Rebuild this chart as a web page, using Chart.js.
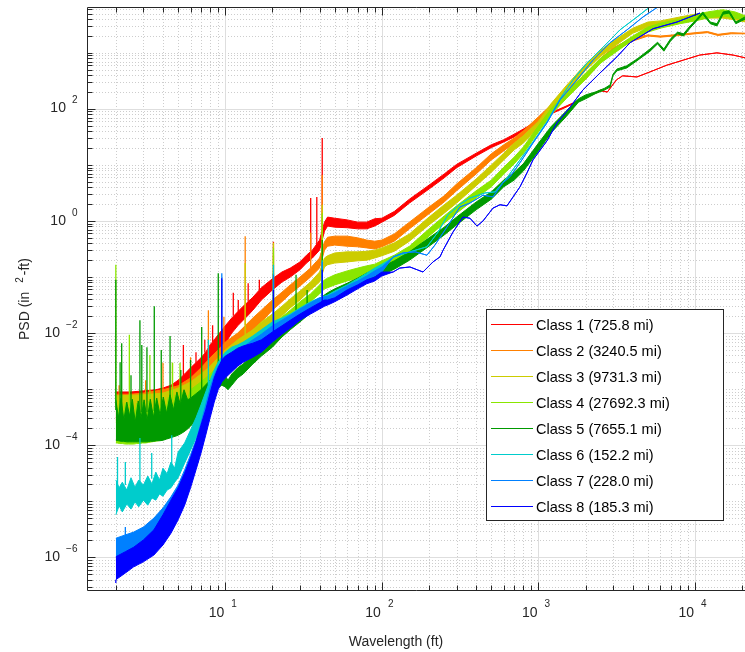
<!DOCTYPE html>
<html>
<head>
<meta charset="utf-8">
<script src="https://cdn.jsdelivr.net/npm/chart.js@4/dist/chart.umd.min.js"></script>
<style>
  html, body { margin: 0; padding: 0; background: #fff; }
  canvas { display: block; }
</style>
</head>
<body>
<canvas id="psd" width="745" height="652"></canvas>
<script>
// Each band row: [wavelength (ft), log10 PSD upper envelope, log10 PSD lower envelope]
// Each spike row: [wavelength (ft), log10 PSD at base, log10 PSD at peak]
const class1Band = [
  [2, -3.05, -3.51], [2.5, -3.05, -3.55], [3, -3.03, -3.55], [3.6, -3.01, -3.53], [4, -2.98, -3.51],
  [4.5, -2.93, -3.44], [5, -2.84, -3.34], [5.5, -2.73, -3.16], [6, -2.62, -2.98], [7, -2.44, -2.80],
  [7.5, -2.34, -2.69], [8, -2.21, -2.57], [8.5, -2.12, -2.44], [9, -2.03, -2.34], [10, -1.87, -2.18],
  [11, -1.73, -2.00], [12, -1.62, -1.87], [13, -1.52, -1.77], [14, -1.44, -1.68], [15, -1.36, -1.59],
  [17, -1.19, -1.41], [20, -1.03, -1.23], [23, -0.91, -1.09], [26, -0.84, -1.00], [30, -0.73, -0.87],
  [33, -0.61, -0.75], [36, -0.52, -0.66], [40, -0.34, -0.52], [43, -0.02, -0.18], [45, 0.07, -0.09],
  [50, 0.05, -0.11], [60, 0.02, -0.12], [70, -0.02, -0.14], [80, -0.02, -0.14], [90, 0.04, -0.09],
  [100, 0.05, -0.02], [120, 0.17, 0.10], [150, 0.39, 0.32], [200, 0.64, 0.57], [250, 0.84, 0.77],
  [300, 1.01, 0.95], [400, 1.21, 1.16], [500, 1.36, 1.31], [600, 1.45, 1.41], [700, 1.55, 1.50],
  [800, 1.64, 1.61], [1000, 1.80, 1.77], [1200, 1.93, 1.91], [1500, 2.05, 2.03], [2000, 2.21, 2.20],
  [2500, 2.34, 2.32], [2750, 2.30, 2.30], [3150, 2.52, 2.52], [3450, 2.59, 2.59], [4250, 2.57, 2.57],
  [5150, 2.66, 2.66], [6600, 2.78, 2.78], [8400, 2.87, 2.87], [10700, 2.96, 2.96], [13800, 3.00, 3.00],
  [17500, 2.96, 2.96], [21000, 2.91, 2.91]
];
const class1Spikes = [
  [5.4, -2.76, -2.21], [6.5, -2.53, -2.34], [7.4, -2.35, -2.12], [8.3, -2.16, -1.86],
  [11.25, -1.69, -1.28], [12.1, -1.62, -1.41], [14, -1.44, -1.11], [16.5, -1.23, -1.05],
  [20.3, -1.03, -0.37], [35.1, -0.55, 0.41], [38.4, -0.43, 0.43], [41.6, -0.27, 1.48]
];

const class2Band = [
  [2, -3.09, -3.55], [2.5, -3.09, -3.57], [3, -3.07, -3.57], [4, -3.01, -3.55], [5, -2.94, -3.44],
  [6, -2.80, -3.23], [7, -2.62, -3.01], [8, -2.44, -2.84], [9, -2.30, -2.62], [10, -2.16, -2.44],
  [12, -2.00, -2.21], [15, -1.73, -1.94], [17, -1.59, -1.80], [20, -1.41, -1.59], [23, -1.27, -1.44],
  [26, -1.14, -1.30], [30, -1.00, -1.16], [35, -0.84, -1.00], [40, -0.66, -0.84], [43, -0.37, -0.52],
  [45, -0.29, -0.45], [50, -0.27, -0.43], [60, -0.27, -0.45], [70, -0.30, -0.46], [80, -0.34, -0.48],
  [90, -0.36, -0.50], [100, -0.34, -0.46], [120, -0.23, -0.36], [150, -0.02, -0.14], [200, 0.25, 0.13],
  [250, 0.45, 0.34], [300, 0.66, 0.54], [400, 0.95, 0.84], [500, 1.20, 1.09], [600, 1.36, 1.25],
  [700, 1.48, 1.39], [800, 1.61, 1.52], [1000, 1.86, 1.77], [1200, 2.07, 1.98], [1500, 2.32, 2.23],
  [2000, 2.62, 2.53], [2500, 2.91, 2.84], [3000, 3.09, 3.02], [4000, 3.27, 3.21], [5000, 3.32, 3.30],
  [6000, 3.30, 3.28], [8000, 3.33, 3.31], [10000, 3.36, 3.34], [12000, 3.38, 3.36], [14000, 3.33, 3.31],
  [17000, 3.36, 3.34], [21000, 3.35, 3.34]
];
const class2Spikes = [
  [2.1, -3.16, -2.93], [3.1, -3.10, -2.84], [4.0, -3.05, -2.53], [6.0, -2.84, -2.43],
  [7.8, -2.48, -1.59], [9.8, -2.19, -1.71], [13.4, -1.86, -0.27], [20.3, -1.41, -0.61],
  [35.1, -0.84, -0.21], [41.6, -0.61, 0.82]
];

const class3Band = [
  [2, -3.12, -3.59], [3, -3.10, -3.60], [4, -3.07, -3.59], [5, -2.98, -3.48], [6, -2.87, -3.30],
  [7, -2.73, -3.12], [8, -2.59, -2.98], [9, -2.44, -2.80], [10, -2.30, -2.62], [12, -2.12, -2.39],
  [15, -1.94, -2.18], [17, -1.80, -2.03], [20, -1.66, -1.86], [23, -1.52, -1.69], [26, -1.39, -1.55],
  [30, -1.25, -1.41], [35, -1.09, -1.23], [40, -0.91, -1.09], [43, -0.66, -0.82], [45, -0.62, -0.78],
  [50, -0.57, -0.75], [60, -0.55, -0.73], [70, -0.55, -0.71], [80, -0.54, -0.70], [90, -0.52, -0.66],
  [100, -0.48, -0.62], [120, -0.39, -0.54], [150, -0.23, -0.36], [200, 0.07, -0.07], [250, 0.29, 0.14],
  [300, 0.46, 0.32], [400, 0.75, 0.63], [500, 1.00, 0.87], [600, 1.21, 1.09], [700, 1.39, 1.27],
  [800, 1.52, 1.39], [1000, 1.78, 1.66], [1200, 2.09, 1.96], [1500, 2.41, 2.28], [2000, 2.80, 2.69],
  [2500, 3.05, 2.94], [3000, 3.21, 3.10], [4000, 3.44, 3.35], [5000, 3.55, 3.46], [6000, 3.57, 3.48],
  [8000, 3.64, 3.55], [10000, 3.69, 3.59], [12000, 3.71, 3.62], [15000, 3.71, 3.62], [18000, 3.68, 3.59],
  [21000, 3.62, 3.55]
];
const class3Spikes = [
  [4.6, -3.01, -2.53], [13.4, -2.05, -0.75], [20.3, -1.66, -0.39], [41.6, -0.84, 0.29]
];

const class4Band = [
  [2, -3.23, -3.96], [2.04, -3.55, -3.96], [2.12, -3.21, -3.97], [2.2, -3.60, -3.97], [2.3, -3.25, -3.98],
  [2.4, -3.55, -3.98], [2.5, -3.23, -3.98], [2.6, -3.62, -3.98], [2.72, -3.25, -3.97], [2.84, -3.57, -3.97],
  [2.96, -3.23, -3.96], [3.1, -3.60, -3.96], [3.24, -3.21, -3.95], [3.4, -3.55, -3.94], [3.56, -3.19, -3.93],
  [3.74, -3.51, -3.92], [3.92, -3.18, -3.91], [4.12, -3.48, -3.89], [4.33, -3.14, -3.87], [4.55, -3.44, -3.85],
  [4.79, -3.10, -3.82], [5.04, -3.37, -3.79], [5.31, -3.05, -3.74], [5.6, -3.28, -3.68], [6, -3.01, -3.62],
  [7, -2.87, -3.37], [8, -2.73, -3.10], [9, -2.60, -2.93], [10, -2.48, -2.78],
  [12, -2.30, -2.57], [15, -2.12, -2.34], [17, -2.00, -2.21], [20, -1.86, -2.03], [23, -1.71, -1.87],
  [26, -1.59, -1.75], [30, -1.44, -1.61], [35, -1.30, -1.44], [40, -1.14, -1.30], [43, -1.05, -1.21],
  [45, -1.02, -1.19], [50, -0.96, -1.14], [60, -0.89, -1.07], [70, -0.84, -1.02], [80, -0.80, -0.96],
  [90, -0.77, -0.91], [100, -0.71, -0.86], [120, -0.61, -0.75], [150, -0.45, -0.57], [200, -0.14, -0.27],
  [250, 0.09, -0.04], [300, 0.27, 0.14], [400, 0.54, 0.41], [500, 0.73, 0.61], [600, 0.96, 0.84],
  [700, 1.14, 1.02], [800, 1.32, 1.20], [1000, 1.70, 1.59], [1200, 2.00, 1.89], [1500, 2.28, 2.18],
  [2000, 2.64, 2.53], [2500, 2.91, 2.82], [3000, 3.07, 2.98], [4000, 3.30, 3.23], [5000, 3.46, 3.37],
  [6000, 3.53, 3.44], [8000, 3.60, 3.52], [10000, 3.68, 3.57], [12000, 3.73, 3.62], [15000, 3.77, 3.66],
  [18000, 3.73, 3.62], [21000, 3.66, 3.59]
];
const class4Spikes = [
  [2.0, -3.28, -0.78], [2.44, -3.30, -2.03], [3.3, -3.29, -2.39], [4.6, -3.20, -2.53],
  [5.14, -3.14, -2.53], [20.3, -1.86, -0.48], [41.6, -1.11, 0.14]
];

const class5Band = [
  [2, -3.19, -3.91], [2.08, -3.51, -3.92], [2.16, -3.16, -3.93], [2.25, -3.55, -3.93], [2.35, -3.23, -3.94],
  [2.45, -3.48, -3.94], [2.55, -3.18, -3.94], [2.66, -3.59, -3.94], [2.78, -3.21, -3.94], [2.9, -3.51, -3.94],
  [3.03, -3.19, -3.94], [3.17, -3.55, -3.94], [3.32, -3.18, -3.93], [3.48, -3.50, -3.93], [3.65, -3.16, -3.92],
  [3.83, -3.46, -3.92], [4.02, -3.14, -3.91], [4.22, -3.43, -3.89], [4.44, -3.10, -3.87], [4.67, -3.37, -3.85],
  [4.91, -3.05, -3.83], [5.17, -3.28, -3.80], [5.45, -3.01, -3.76], [5.75, -3.19, -3.71], [6, -3.16, -3.66],
  [7, -3.01, -3.46], [8, -2.84, -3.16], [9, -2.71, -2.98], [9.5, -2.69, -2.93],
  [10, -2.76, -2.96], [10.4, -2.84, -3.01], [11, -2.73, -2.93], [12, -2.62, -2.80], [13, -2.55, -2.73],
  [15, -2.39, -2.55], [17, -2.27, -2.41], [20, -2.09, -2.25], [23, -1.93, -2.07], [26, -1.80, -1.94],
  [30, -1.66, -1.80], [35, -1.52, -1.64], [40, -1.39, -1.52], [43, -1.32, -1.44], [45, -1.28, -1.41],
  [50, -1.21, -1.36], [60, -1.11, -1.25], [70, -1.02, -1.16], [80, -0.93, -1.07], [90, -0.87, -1.02],
  [100, -0.82, -0.96], [120, -0.71, -0.86], [150, -0.55, -0.70], [200, -0.30, -0.45], [250, -0.11, -0.25],
  [300, 0.07, -0.07], [400, 0.34, 0.20], [500, 0.52, 0.39], [600, 0.73, 0.61], [700, 0.87, 0.73],
  [800, 1.02, 0.89], [1000, 1.39, 1.25], [1200, 1.68, 1.57], [1500, 1.96, 1.86], [1800, 2.18, 2.12],
  [2000, 2.25, 2.18], [2300, 2.30, 2.27], [2650, 2.37, 2.34], [2870, 2.43, 2.39], [2990, 2.62, 2.59],
  [3170, 2.71, 2.68], [3660, 2.77, 2.73], [4260, 2.89, 2.86], [5160, 3.07, 3.03], [5760, 3.19, 3.16],
  [6320, 3.07, 3.03], [6970, 3.25, 3.21], [7730, 3.37, 3.34], [8440, 3.34, 3.30], [9280, 3.48, 3.44],
  [10230, 3.60, 3.57], [11200, 3.73, 3.69], [12500, 3.55, 3.52], [13800, 3.52, 3.48], [15100, 3.73, 3.69],
  [16500, 3.75, 3.71], [18200, 3.55, 3.52], [20800, 3.64, 3.60]
];
const class5Spikes = [
  [2.0, -3.37, -1.05], [2.13, -3.39, -2.52], [2.18, -3.39, -2.18], [2.5, -3.41, -2.75],
  [2.85, -3.41, -1.77], [2.93, -3.41, -2.21], [3.16, -3.41, -2.25], [3.52, -3.39, -1.52],
  [3.9, -3.37, -2.30], [4.44, -3.34, -2.05], [5.2, -3.26, -2.66], [6.0, -3.16, -2.48],
  [7.07, -3.01, -1.89], [9.02, -2.71, -0.93], [20.3, -2.09, -0.93], [28.3, -1.69, -0.96],
  [33.3, -1.55, -1.23], [41.6, -1.36, -0.34]
];

const class6Band = [
  [2, -4.62, -5.24], [2.1, -4.76, -5.08], [2.2, -4.66, -5.19], [2.35, -4.80, -5.05], [2.5, -4.58, -5.14],
  [2.65, -4.75, -5.01], [2.8, -4.62, -5.10], [3, -4.71, -4.98], [3.2, -4.55, -5.07], [3.4, -4.69, -4.94],
  [3.6, -4.48, -4.98], [3.8, -4.62, -4.87], [4, -4.41, -4.91], [4.25, -4.51, -4.80], [4.5, -4.30, -4.76],
  [4.75, -4.41, -4.66], [5, -4.12, -4.58], [5.5, -3.96, -4.32], [6, -3.73, -4.09], [6.5, -3.51, -3.87],
  [7, -3.28, -3.59], [7.5, -3.05, -3.37], [8, -2.84, -3.10], [8.5, -2.66, -2.93], [9, -2.52, -2.76],
  [10, -2.34, -2.55], [11, -2.25, -2.46], [12, -2.21, -2.41], [13, -2.16, -2.34], [15, -2.05, -2.21],
  [17, -1.94, -2.11], [20, -1.80, -1.98], [23, -1.73, -1.87], [26, -1.66, -1.80], [30, -1.55, -1.69],
  [35, -1.44, -1.57], [40, -1.37, -1.50], [45, -1.32, -1.43], [50, -1.25, -1.37], [60, -1.14, -1.27],
  [70, -1.03, -1.14], [80, -0.93, -1.03], [90, -0.84, -0.95], [100, -0.77, -0.86], [120, -0.64, -0.64],
  [151, -0.55, -0.55], [194, -0.46, -0.46], [228, -0.20, -0.20], [264, 0.11, 0.11], [315, 0.30, 0.30],
  [365, 0.41, 0.41], [455, 0.50, 0.50], [528, 0.52, 0.52], [629, 0.77, 0.77], [762, 1.09, 1.09],
  [922, 1.41, 1.41], [1133, 1.77, 1.77], [1372, 2.18, 2.18], [1661, 2.52, 2.52], [2040, 2.82, 2.82],
  [2582, 3.10, 3.10], [3314, 3.41, 3.41], [4256, 3.64, 3.64], [5152, 3.82, 3.82], [5970, 3.98, 3.98]
];
const class6Spikes = [
  [2.05, -4.73, -4.21], [2.3, -4.71, -4.30], [2.85, -4.67, -3.87], [3.39, -4.60, -4.14],
  [4.55, -4.33, -3.82], [7.8, -2.93, -2.12], [20.3, -1.80, -0.78], [41.6, -1.34, -0.70]
];

const class7Band = [
  [2, -5.66, -6.05], [2.3, -5.60, -6.01], [2.6, -5.55, -5.96], [3, -5.46, -5.87], [3.5, -5.30, -5.74],
  [4, -5.12, -5.57], [4.5, -4.92, -5.39], [5, -4.71, -5.16], [5.5, -4.44, -4.89], [6, -4.17, -4.62],
  [6.5, -3.91, -4.32], [7, -3.60, -4.00], [7.5, -3.28, -3.69], [8, -2.98, -3.37], [8.5, -2.75, -3.10],
  [9, -2.59, -2.91], [10, -2.44, -2.73], [11, -2.37, -2.62], [12, -2.30, -2.52], [13, -2.25, -2.44],
  [15, -2.12, -2.30], [17, -2.02, -2.19], [20, -1.87, -2.05], [23, -1.77, -1.93], [26, -1.68, -1.82],
  [30, -1.57, -1.69], [35, -1.46, -1.59], [40, -1.37, -1.50], [45, -1.34, -1.44], [50, -1.28, -1.39],
  [60, -1.16, -1.27], [70, -1.07, -1.16], [80, -0.98, -1.07], [90, -0.89, -0.98], [100, -0.82, -0.91],
  [118, -0.64, -0.64], [136, -0.57, -0.57], [163, -0.55, -0.55], [194, -0.61, -0.61], [218, -0.43, -0.43],
  [260, -0.11, -0.11], [315, 0.25, 0.25], [365, 0.32, 0.32], [442, 0.46, 0.46], [512, 0.43, 0.43],
  [593, 0.68, 0.68], [658, 0.79, 0.79], [762, 1.04, 1.04], [922, 1.39, 1.39], [1133, 1.75, 1.75],
  [1372, 2.16, 2.16], [1762, 2.52, 2.52], [2228, 2.87, 2.87], [2861, 3.18, 3.18], [3674, 3.41, 3.41],
  [4650, 3.64, 3.64], [5797, 3.82, 3.82], [6713, 3.98, 3.98]
];
const class7Spikes = [
  [2.3, -5.62, -5.46], [9.5, -2.52, -0.93], [20.3, -1.87, -0.96], [41.6, -1.36, -0.73]
];

const class8Band = [
  [2, -5.99, -6.40], [2.3, -5.90, -6.28], [2.6, -5.82, -6.17], [3, -5.69, -6.08], [3.5, -5.51, -5.96],
  [4, -5.24, -5.78], [4.5, -4.98, -5.57], [5, -4.76, -5.33], [5.5, -4.50, -5.07], [6, -4.23, -4.76],
  [6.5, -3.94, -4.44], [7, -3.64, -4.14], [7.5, -3.37, -3.82], [8, -3.07, -3.51], [8.5, -2.80, -3.23],
  [9, -2.62, -3.01], [9.5, -2.48, -2.87], [10, -2.41, -2.80], [11, -2.34, -2.69], [12, -2.27, -2.59],
  [13, -2.23, -2.52], [15, -2.18, -2.43], [17, -2.12, -2.34], [20, -1.98, -2.16], [23, -1.87, -2.02],
  [26, -1.77, -1.91], [30, -1.66, -1.77], [35, -1.55, -1.66], [40, -1.46, -1.57], [43, -1.41, -1.52],
  [45, -1.41, -1.50], [50, -1.37, -1.44], [60, -1.23, -1.32], [70, -1.14, -1.21], [80, -1.05, -1.12],
  [90, -1.00, -1.07], [100, -0.91, -0.98], [118, -0.91, -0.91], [130, -0.84, -0.84], [151, -0.82, -0.82],
  [168, -0.87, -0.87], [183, -0.91, -0.91], [212, -0.73, -0.73], [235, -0.64, -0.64], [246, -0.52, -0.52],
  [284, -0.20, -0.20], [330, 0.07, 0.07], [365, 0.05, 0.05], [405, -0.09, -0.09], [442, 0.00, 0.00],
  [512, 0.23, 0.23], [568, 0.29, 0.29], [629, 0.27, 0.27], [762, 0.61, 0.61], [845, 0.86, 0.86],
  [922, 1.09, 1.09], [1133, 1.43, 1.43], [1313, 1.75, 1.75], [1589, 2.03, 2.03], [1924, 2.34, 2.34],
  [2470, 2.64, 2.64], [3171, 2.93, 2.93], [3840, 3.18, 3.18], [5386, 3.43, 3.43], [7664, 3.55, 3.55],
  [10750, 3.71, 3.71]
];
const class8Spikes = [
  [2.0, -6.40, -6.46], [9.5, -2.52, -1.02], [20.3, -2.02, -1.23], [41.6, -1.48, -0.87]
];

const classLabels = [
  'Class 1 (725.8 mi)', 'Class 2 (3240.5 mi)', 'Class 3 (9731.3 mi)', 'Class 4 (27692.3 mi)',
  'Class 5 (7655.1 mi)', 'Class 6 (152.2 mi)', 'Class 7 (228.0 mi)', 'Class 8 (185.3 mi)'
];
const xTickExponents = [1, 2, 3, 4];
const yTickExponents = [2, 0, -2, -4, -6];

// styling
const classColors = ['#ff0000', '#ff8000', '#cccc00', '#8ae600', '#009a00', '#00cccc', '#0080ff', '#0000ff'];
const INK = '#262626';
const FONT = '"Liberation Sans", Arial, Helvetica, sans-serif';

const bands = [class1Band, class2Band, class3Band, class4Band, class5Band, class6Band, class7Band, class8Band];
const spikes = [class1Spikes, class2Spikes, class3Spikes, class4Spikes, class5Spikes, class6Spikes, class7Spikes, class8Spikes];

const datasets = [];
bands.forEach((band, i) => {
  const color = classColors[i];
  const order = bands.length - i; // later classes are drawn on top
  datasets.push({
    label: classLabels[i],
    data: band.map(r => ({ x: r[0], y: Math.pow(10, r[1]) })),
    borderColor: color, backgroundColor: color, borderWidth: 1,
    fill: '+1', pointRadius: 0, order
  });
  datasets.push({
    label: classLabels[i] + ' lower',
    data: band.map(r => ({ x: r[0], y: Math.pow(10, r[2]) })),
    borderColor: color, borderWidth: 1, fill: false, pointRadius: 0, order
  });
  const spikePts = [];
  spikes[i].forEach(s => {
    spikePts.push({ x: s[0], y: Math.pow(10, s[1]) }, { x: s[0], y: Math.pow(10, s[2]) }, { x: s[0], y: null });
  });
  datasets.push({
    label: classLabels[i] + ' peaks',
    data: spikePts,
    borderColor: color, borderWidth: 1.3, fill: false, pointRadius: 0, spanGaps: false, order
  });
});

// every 1..9 x 10^k value inside a scale, flagged when it carries a label
function logTickValues(scale, labelled) {
  const out = [];
  const k0 = Math.floor(Math.log10(scale.min)), k1 = Math.ceil(Math.log10(scale.max));
  for (let k = k0; k <= k1; k++) {
    for (let m = 1; m <= 9; m++) {
      const v = m * Math.pow(10, k);
      if (v < scale.min || v > scale.max) continue;
      out.push({ v, major: m === 1 && labelled.includes(k) });
    }
  }
  return out;
}

const axesFrame = {
  id: 'axesFrame',
  beforeDatasetsDraw(chart) {
    const { ctx, chartArea: a, scales: { x, y } } = chart;
    const xt = logTickValues(x, xTickExponents), yt = logTickValues(y, yTickExponents);
    ctx.save();
    ctx.beginPath();
    ctx.rect(a.left, a.top, a.right - a.left, a.bottom - a.top);
    ctx.clip();
    ctx.lineWidth = 1;
    // dotted minor grid
    ctx.strokeStyle = '#cdcdcd';
    ctx.setLineDash([1, 2]);
    ctx.beginPath();
    xt.filter(t => !t.major).forEach(t => {
      const p = Math.round(x.getPixelForValue(t.v)) + 0.5;
      ctx.moveTo(p, a.top); ctx.lineTo(p, a.bottom);
    });
    yt.filter(t => !t.major).forEach(t => {
      const p = Math.round(y.getPixelForValue(t.v)) + 0.5;
      ctx.moveTo(a.left, p); ctx.lineTo(a.right, p);
    });
    ctx.stroke();
    // solid major grid
    ctx.setLineDash([]);
    ctx.strokeStyle = '#dedede';
    ctx.beginPath();
    xt.filter(t => t.major).forEach(t => {
      const p = Math.round(x.getPixelForValue(t.v)) + 0.5;
      ctx.moveTo(p, a.top); ctx.lineTo(p, a.bottom);
    });
    yt.filter(t => t.major).forEach(t => {
      const p = Math.round(y.getPixelForValue(t.v)) + 0.5;
      ctx.moveTo(a.left, p); ctx.lineTo(a.right, p);
    });
    ctx.stroke();
    ctx.restore();
  },
  afterDatasetsDraw(chart) {
    const { ctx, chartArea: a, scales: { x, y } } = chart;
    const xt = logTickValues(x, xTickExponents), yt = logTickValues(y, yTickExponents);
    const L = Math.round(a.left) + 0.5, B = Math.round(a.bottom) + 0.5, T = Math.round(a.top) + 0.5;
    ctx.save();
    ctx.strokeStyle = INK;
    ctx.lineWidth = 1;
    ctx.beginPath();
    ctx.moveTo(L, T); ctx.lineTo(L, B); ctx.lineTo(a.right, B);
    ctx.moveTo(L, T); ctx.lineTo(a.right, T);
    xt.forEach(t => {
      const p = Math.round(x.getPixelForValue(t.v)) + 0.5;
      const len = t.major ? 8 : 5;
      ctx.moveTo(p, B); ctx.lineTo(p, B - len);
      ctx.moveTo(p, T); ctx.lineTo(p, T + len);
    });
    yt.forEach(t => {
      const p = Math.round(y.getPixelForValue(t.v)) + 0.5;
      const len = t.major ? 8 : 5;
      ctx.moveTo(L, p); ctx.lineTo(L + len, p);
    });
    ctx.stroke();

    // tick labels: 10 with a raised exponent
    ctx.fillStyle = INK;
    ctx.textBaseline = 'alphabetic';
    xTickExponents.forEach(k => {
      const p = x.getPixelForValue(Math.pow(10, k));
      ctx.font = '14px ' + FONT;
      ctx.textAlign = 'right';
      ctx.fillText('10', p - 1, 617);
      ctx.font = '10px ' + FONT;
      ctx.textAlign = 'left';
      ctx.fillText(String(k), p + 6, 607);
    });
    yTickExponents.forEach(k => {
      const p = y.getPixelForValue(Math.pow(10, k));
      const exp = k < 0 ? '\u2212' + Math.abs(k) : String(k);
      ctx.font = '10px ' + FONT;
      ctx.textAlign = 'right';
      const ew = ctx.measureText(exp).width;
      ctx.fillText(exp, 77.5, p - 5.5);
      ctx.font = '14px ' + FONT;
      ctx.fillText('10', 77.5 - ew - 6, p + 3.5);
    });

    // axis titles
    ctx.font = '14px ' + FONT;
    ctx.textAlign = 'center';
    ctx.fillText('Wavelength (ft)', 396, 646);

    ctx.save();
    ctx.translate(29, 340);
    ctx.rotate(-Math.PI / 2);
    ctx.textAlign = 'left';
    ctx.font = '14px ' + FONT;
    const part1 = 'PSD (in';
    const w1 = ctx.measureText(part1).width;
    ctx.fillText(part1, 0, 0);
    ctx.font = '10px ' + FONT;
    const w2 = ctx.measureText('2').width;
    ctx.fillText('2', w1 + 9, -6);
    ctx.font = '14px ' + FONT;
    ctx.fillText('-ft)', w1 + 9 + w2 + 2, 0);
    ctx.restore();

    // legend box
    const bx = 486.5, by = 309.5, bw = 237, bh = 211;
    ctx.fillStyle = '#ffffff';
    ctx.fillRect(bx, by, bw, bh);
    ctx.strokeStyle = INK;
    ctx.lineWidth = 1;
    ctx.strokeRect(bx, by, bw, bh);
    ctx.font = '14.5px ' + FONT;
    ctx.textAlign = 'left';
    classLabels.forEach((label, i) => {
      const rowY = Math.round(324 + i * 26.0) + 0.5;
      ctx.strokeStyle = classColors[i];
      ctx.beginPath();
      ctx.moveTo(491, rowY); ctx.lineTo(533, rowY);
      ctx.stroke();
      ctx.fillStyle = '#000000';
      ctx.fillText(label, 536, rowY + 5);
    });
    ctx.restore();
  }
};

new Chart(document.getElementById('psd'), {
  type: 'line',
  data: { datasets },
  options: {
    responsive: false,
    animation: false,
    events: [],
    layout: { padding: { top: 7, right: 0, bottom: 0, left: 0 } },
    plugins: { legend: { display: false }, tooltip: { enabled: false } },
    elements: { line: { tension: 0 }, point: { radius: 0 } },
    scales: {
      x: {
        type: 'logarithmic', min: 1.309, max: 20830, bounds: 'data',
        grid: { display: false }, border: { display: false }, ticks: { display: false },
        afterFit(s) { s.height = 62; }
      },
      y: {
        type: 'logarithmic', min: Math.pow(10, -6.583), max: Math.pow(10, 3.818), bounds: 'data',
        grid: { display: false }, border: { display: false }, ticks: { display: false },
        afterFit(s) { s.width = 87; }
      }
    }
  },
  plugins: [axesFrame]
});
</script>
</body>
</html>
